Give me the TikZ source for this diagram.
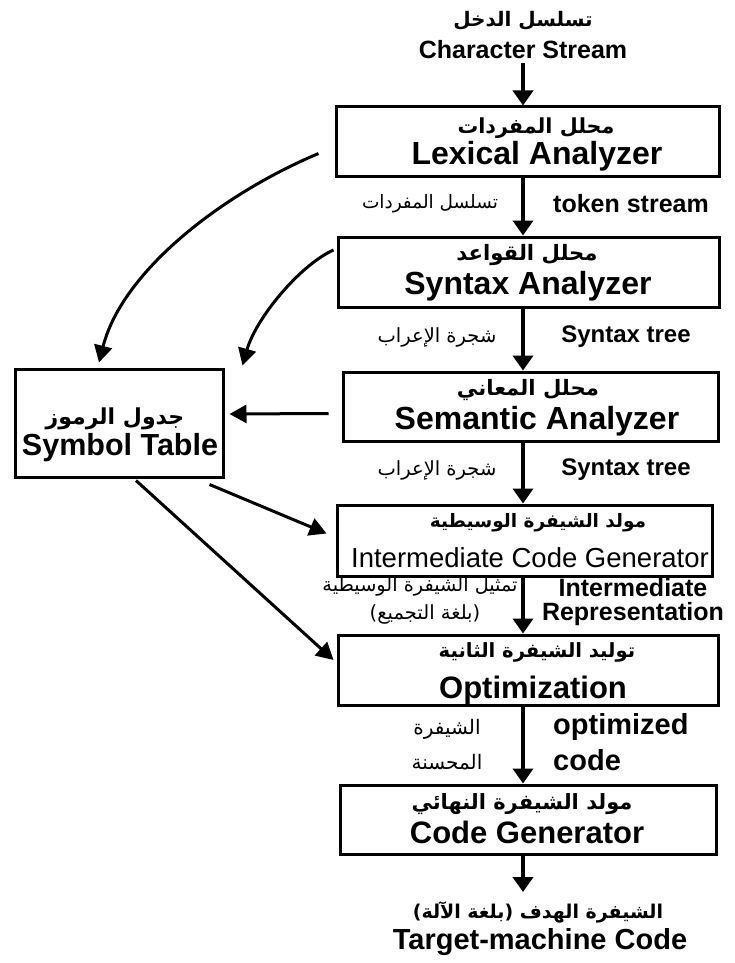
\documentclass[tikz,border=0pt]{standalone}
\usepackage{fontspec}
\setmainfont{Liberation Sans}
\newfontfamily\arabicfont[Script=Arabic]{DejaVu Sans}
\TeXXeTstate=1
\usetikzlibrary{arrows.meta}
\newcommand\AR[1]{\beginR #1\endR}
\tikzset{
  box/.style={draw, line width=3pt, inner sep=0pt},
  txt/.style={inner sep=0pt, anchor=center},
  arB/.style={txt, font={\fontsize{#1}{#1}\selectfont\arabicfont\bfseries}},
  arL/.style={txt, font={\fontsize{#1}{#1}\selectfont\arabicfont}},
  enB/.style={txt, font={\fontsize{#1}{#1}\selectfont\bfseries}},
  enR/.style={txt, font={\fontsize{#1}{#1}\selectfont}},
  flow/.style={line width=4.5pt, -{Triangle[length=15pt,width=20pt]}},
  side/.style={line width=3pt, -{Triangle[length=17pt,width=18pt]}}
}
\begin{document}
\begin{tikzpicture}[x=1pt,y=-1pt]
\useasboundingbox (0,0) rectangle (735,963);
\coordinate (col) at (523,0);
% title
\node[arB=20] (tin) at (523,21) {\AR{تسلسل الدخل}};
\node[enB=25] (tcs) at (523,50) {Character Stream};
\coordinate (topstart) at (523,63);
% boxes
\node[box, minimum width=383, minimum height=69] (lex) at (527.5,141.5) {};
\node[box, minimum width=381, minimum height=70] (syn) at (528.5,272) {};
\node[box, minimum width=375, minimum height=69] (sem) at (530.5,406.5) {};
\node[box, minimum width=375, minimum height=71] (icg) at (524.5,540.5) {};
\node[box, minimum width=380, minimum height=70] (opt) at (528,670) {};
\node[box, minimum width=376, minimum height=69] (cg) at (528,819.5) {};
\node[box, minimum width=208, minimum height=108] (sym) at (119,423) {};
% box texts
\node[arB=20.7] (lexa) at (536,128) {\AR{محلل المفردات}};
\node[enB=32] (lexe) at (537,156) {Lexical Analyzer};
\node[arB=21.2] (syna) at (527,255) {\AR{محلل القواعد}};
\node[enB=32] (syne) at (528,286) {Syntax Analyzer};
\node[arB=21.2] (sema) at (528,390) {\AR{محلل المعاني}};
\node[enB=32] (seme) at (537,421) {Semantic Analyzer};
\node[arB=18.5] (icga) at (538,523) {\AR{مولد الشيفرة الوسيطية}};
\node[enR=27.5] (icge) at (530,558) {Intermediate Code Generator};
\node[arB=19.6] (opta) at (537,652) {\AR{توليد الشيفرة الثانية}};
\node[enB=31] (opte) at (533,690) {Optimization};
\node[arB=21] (cga) at (522,804) {\AR{مولد الشيفرة النهائي}};
\node[enB=31] (cge) at (527,832) {Code Generator};
\node[arB=22] (syma) at (115,419) {\AR{جدول الرموز}};
\node[enB=30.5] (syme) at (120,448) {Symbol Table};
% bottom
\coordinate (botend) at (523,892);
\node[arB=19] (tga) at (538,912) {\AR{الشيفرة الهدف (بلغة الآلة)}};
\node[enB=29] (tge) at (540,942) {Target-machine Code};
% arrow labels
\node[enB=25] (l1e) at (631,204) {token stream};
\node[arL=18.5] (l1a) at (430,204) {\AR{تسلسل المفردات}};
\node[enB=24] (l2e) at (626,337) {Syntax tree};
\node[arL=19.5] (l2a) at (437,337) {\AR{شجرة الإعراب}};
\node[enB=24] (l3e) at (626,470) {Syntax tree};
\node[arL=19.5] (l3a) at (437,470) {\AR{شجرة الإعراب}};
\node[enB=25] (l4e1) at (633,588) {Intermediate};
\node[enB=25] (l4e2) at (633,614) {Representation};
\node[arL=19.3] (l4a1) at (420,587) {\AR{تمثيل الشيفرة الوسيطية}};
\node[arL=19.5] (l4a2) at (425,614) {\AR{(بلغة التجميع)}};
\node[enB=29, anchor=west] (l5e1) at (553,727) {optimized};
\node[enB=29, anchor=west] (l5e2) at (553,760) {code};
\node[arL=20] (l5a1) at (447,729) {\AR{الشيفرة}};
\node[arL=20] (l5a2) at (447,762) {\AR{المحسنة}};
% main flow
\draw[flow] (topstart) -- (lex.north -| col);
\draw[flow] (lex.south -| col) -- (syn.north -| col);
\draw[flow] (syn.south -| col) -- (sem.north -| col);
\draw[flow] (sem.south -| col) -- (icg.north -| col);
\draw[flow] (icg.south -| col) -- (opt.north -| col);
\draw[flow] (opt.south -| col) -- (cg.north -| col);
\draw[flow] (cg.south -| col) -- (botend);
% symbol table links
\draw[side] ([shift={(-16,12)}]lex.west) .. controls (220,195) and (122,272) .. ([shift={(-20,-5)}]sym.north);
\draw[side] ([shift={(-3,-22)}]syn.west) .. controls (300,265) and (256,318) .. ([shift={(18,-2)}]sym.north east);
\draw[side] ([shift={(-13,7)}]sem.west) -- ([shift={(5,-9)}]sym.east);
\draw[side] ([shift={(-15,6)}]sym.south east) -- ([shift={(-9,-7)}]icg.west);
\draw[side] ([shift={(17,2)}]sym.south) -- ([shift={(-3,-10)}]opt.west);
\end{tikzpicture}
\end{document}
